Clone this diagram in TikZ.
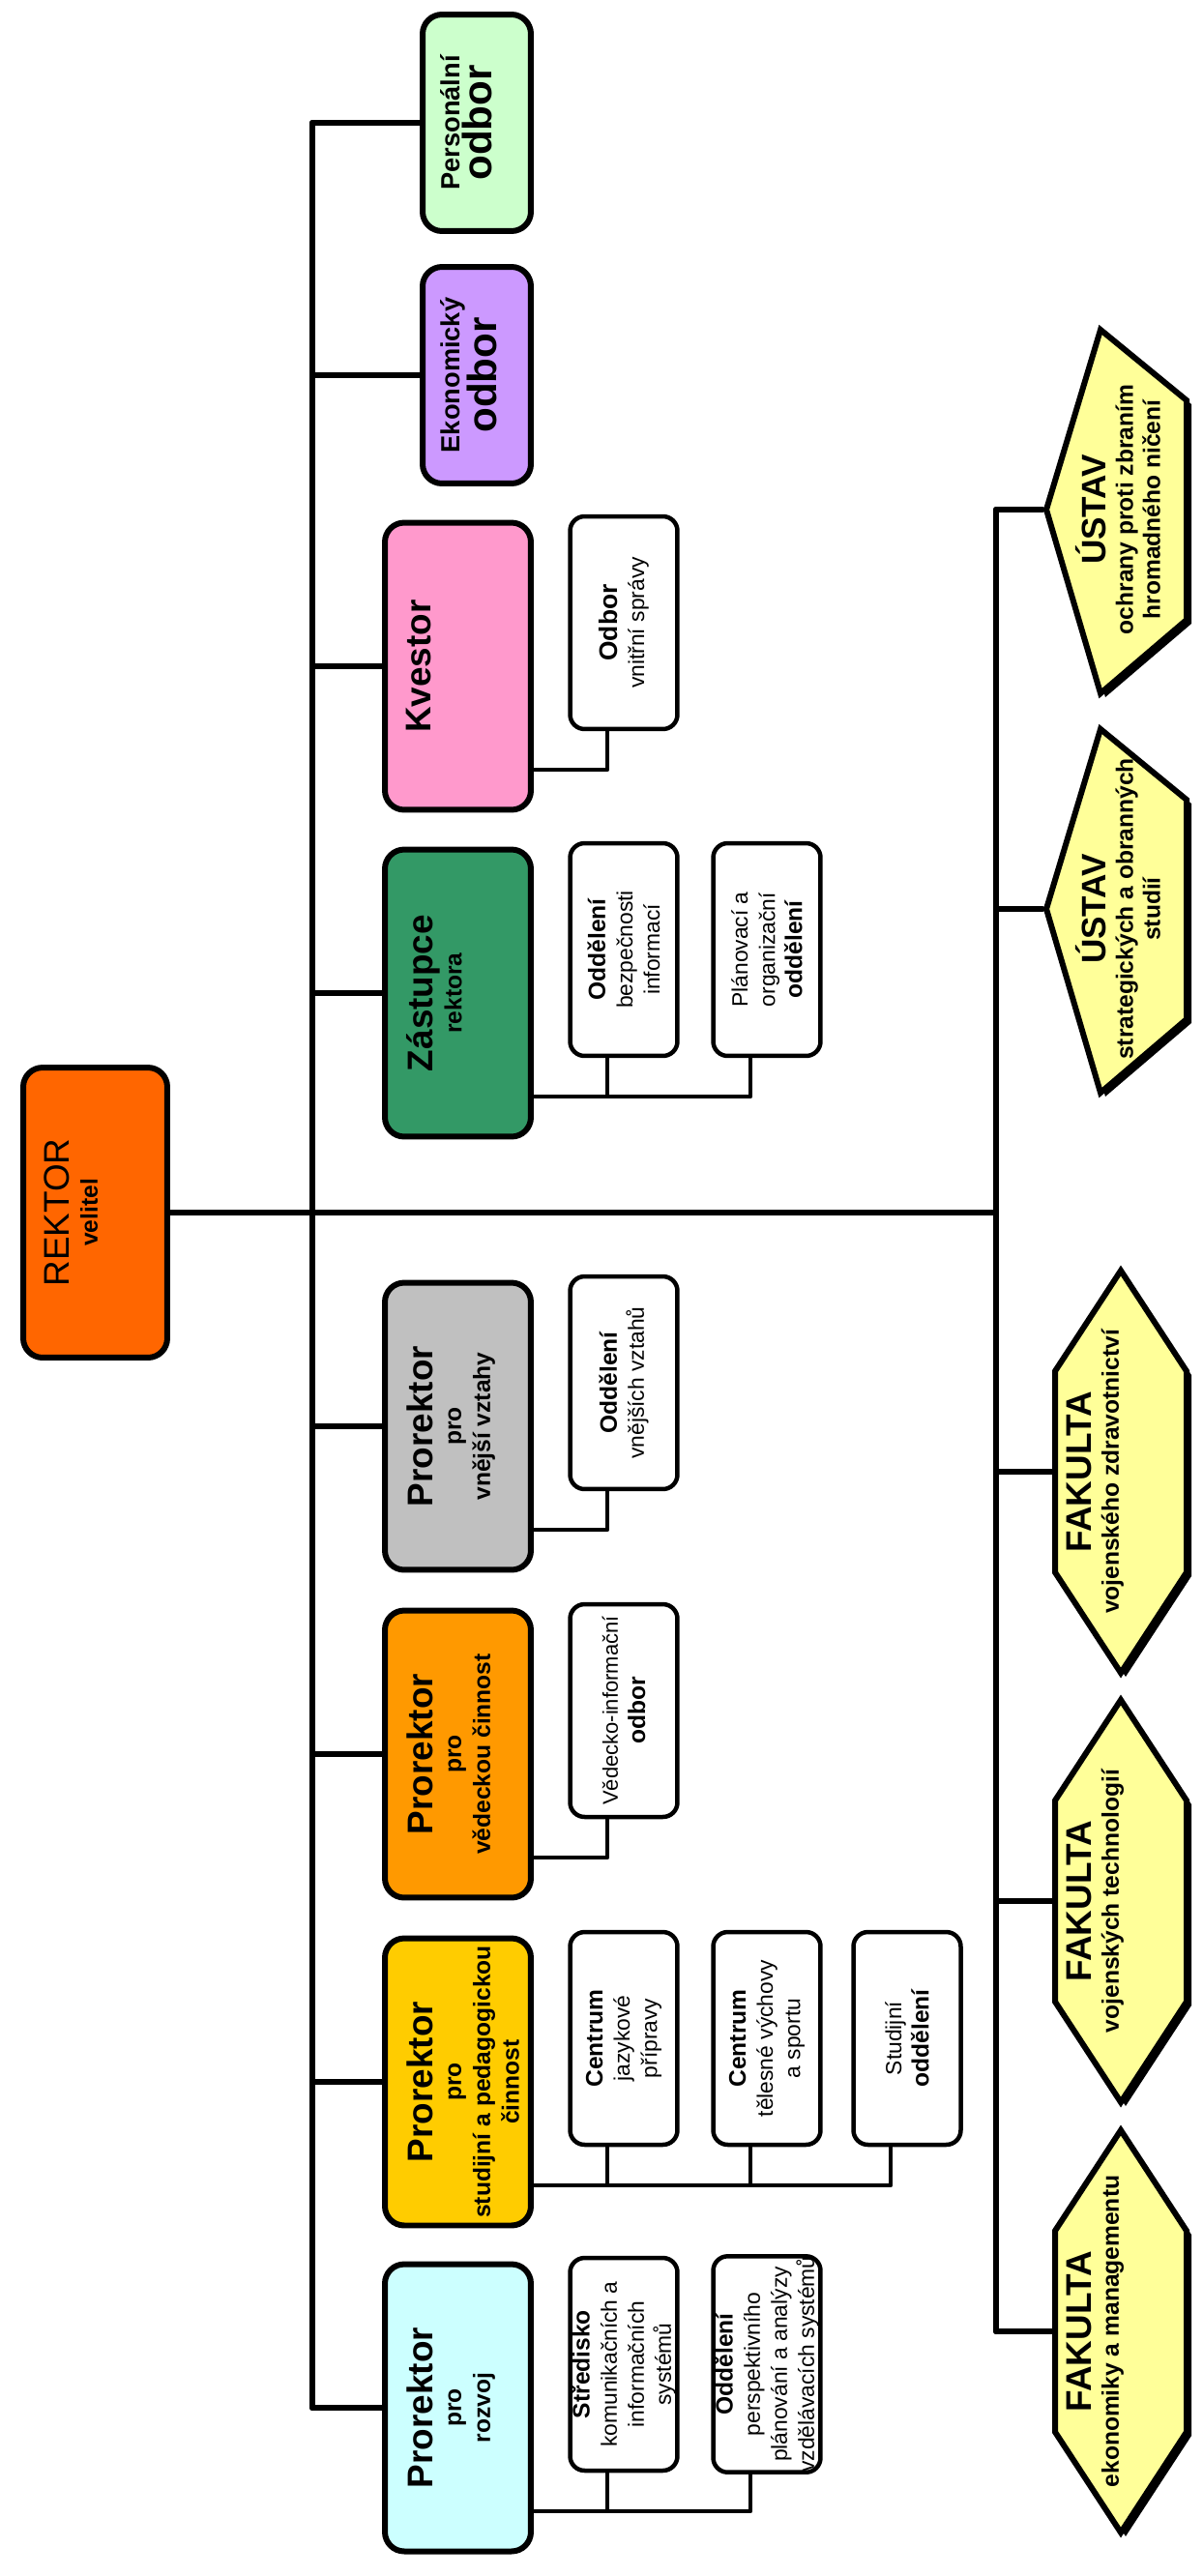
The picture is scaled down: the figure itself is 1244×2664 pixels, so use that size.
\documentclass[tikz,border=0pt]{standalone}
\usepackage{fontspec}
\setmainfont{Liberation Sans}
\usetikzlibrary{calc}
\definecolor{rektororange}{HTML}{FF6600}
\definecolor{persgreen}{HTML}{CCFFCC}
\definecolor{ekoviolet}{HTML}{CC99FF}
\definecolor{kvestorpink}{HTML}{FF99CC}
\definecolor{zastgreen}{HTML}{339966}
\definecolor{vnejgray}{HTML}{C0C0C0}
\definecolor{vedorange}{HTML}{FF9900}
\definecolor{studgold}{HTML}{FFCC00}
\definecolor{rozvojcyan}{HTML}{CCFFFF}
\definecolor{fakyellow}{HTML}{FFFF99}
\newcommand{\velky}[1]{{\fontsize{21}{24}\selectfont #1}}
\newcommand{\tucne}[1]{{\fontsize{14}{16}\selectfont\bfseries #1}}

\begin{document}
\begin{tikzpicture}[x=0.02cm, y=-0.02cm, line join=round, line cap=round,
	headbox/.style={draw, line width=0.12cm, rounded corners=0.4cm, rotate=90, minimum width=5.94cm, minimum height=3.02cm, inner sep=0pt},
	smallbox/.style={headbox, minimum width=4.48cm, minimum height=2.24cm},
	headtext/.style={rotate=90, anchor=north, align=center, inner sep=0pt, font=\fontsize{14}{17}\selectfont\bfseries},
	subbox/.style={draw, fill=white, line width=0.09cm, rounded corners=0.3cm, rotate=90, minimum width=4.4cm, minimum height=2.22cm, inner sep=0pt, align=center, font=\fontsize{13}{16}\selectfont},
	linemain/.style={line width=0.12cm},
	linesub/.style={line width=0.09cm},
	facshape/.style={draw, fill=fakyellow, line width=0.12cm, line join=miter},
	factext/.style={rotate=90, anchor=north, align=center, inner sep=0pt, font=\fontsize{14}{16}\selectfont\bfseries}]
	\useasboundingbox (0,0) rectangle (1244,2664);
	% Rektor
	\node[headbox, minimum width=6cm, minimum height=2.98cm, fill=rektororange] (rektor) at (98.5,1254) {};
	\node[headtext] (rektor-t) at ([xshift=0.48cm]rektor.north) {\velky{\mdseries REKTOR}\\velitel};
	% Odbory a prorektori
	\node[smallbox, fill=persgreen] (pers) at (493,127) {};
	\node[headtext, font=\fontsize{15.5}{19}\selectfont\bfseries] (pers-t) at ([xshift=0.42cm]pers.north) {Personální\\{\fontsize{24}{26}\selectfont odbor}};
	\node[smallbox, fill=ekoviolet] (eko) at (493,388) {};
	\node[headtext, font=\fontsize{15.5}{19}\selectfont\bfseries] (eko-t) at ([xshift=0.42cm]eko.north) {Ekonomický\\{\fontsize{24}{26}\selectfont odbor}};
	\node[headbox, fill=kvestorpink] (kvestor) at (473.5,689) {};
	\node[headtext] (kvestor-t) at ([xshift=0.5cm]kvestor.north) {\velky{Kvestor}};
	\node[headbox, fill=zastgreen] (zast) at (473.5,1027) {};
	\node[headtext] (zast-t) at ([xshift=0.5cm]zast.north) {\velky{Zástupce}\\rektora};
	\node[headbox, fill=vnejgray] (vnej) at (473.5,1475) {};
	\node[headtext] (vnej-t) at ([xshift=0.5cm]vnej.north) {\velky{Prorektor}\\pro\\vnější vztahy};
	\node[headbox, fill=vedorange] (ved) at (473.5,1814) {};
	\node[headtext] (ved-t) at ([xshift=0.5cm]ved.north) {\velky{Prorektor}\\pro\\vědeckou činnost};
	\node[headbox, fill=studgold] (stud) at (473.5,2153) {};
	\node[headtext] (stud-t) at ([xshift=0.5cm]stud.north) {\velky{Prorektor}\\pro\\studijní a pedagogickou\\činnost};
	\node[headbox, fill=rozvojcyan] (rozvoj) at (473.5,2490) {};
	\node[headtext] (rozvoj-t) at ([xshift=0.5cm]rozvoj.north) {\velky{Prorektor}\\pro\\rozvoj};
	% Podrizena pracoviste
	\node[subbox] (odbor) at (645,644) {{\fontsize{15}{18}\selectfont\bfseries Odbor}\\vnitřní správy};
	\node[subbox] (obi) at (645,982) {\tucne{Oddělení}\\bezpečnosti\\informací};
	\node[subbox] (poo) at (793,982) {Plánovací a\\organizační\\\tucne{oddělení}};
	\node[subbox] (ovv) at (645,1430) {\tucne{Oddělení}\\vnějších vztahů};
	\node[subbox, font=\fontsize{12.5}{16}\selectfont] (vio) at (645,1769) {Vědecko-informační\\\tucne{odbor}};
	\node[subbox] (cjp) at (645,2108) {\tucne{Centrum}\\jazykové\\přípravy};
	\node[subbox] (ctv) at (793,2108) {\tucne{Centrum}\\tělesné výchovy\\a sportu};
	\node[subbox] (sto) at (938,2108) {Studijní\\\tucne{oddělení}};
	\node[subbox] (skis) at (645,2445) {\tucne{Středisko}\\komunikačních a\\informačních\\systémů};
	\node[subbox] (oppa) at (793,2445) {\tucne{Oddělení}\\perspektivního\\plánování a analýzy\\vzdělávacích systémů};
	% Hlavni vetve
	\coordinate (t0) at (323,127);
	\coordinate (t1) at (323,2490);
	\coordinate (r0) at (1030,527);
	\coordinate (r1) at (1030,2411);
	\draw[linemain] (t0) -- (t1);
	\draw[linemain] (r0) -- (r1);
	\draw[linemain] (rektor.south) -- (rektor.south -| r0);
	\foreach \n in {pers, eko, kvestor, zast, vnej, ved, stud, rozvoj} {
		\draw[linemain] (\n.north -| t0) -- (\n.north);
	}
	\foreach \h/\s in {kvestor/odbor, zast/obi, zast/poo, vnej/ovv, ved/vio, stud/cjp, stud/ctv, stud/sto, rozvoj/skis, rozvoj/oppa} {
		\draw[linesub] ([yshift=-2.14cm]\h.south) -| ([xshift=-0.34cm]\s.west);
	}
	% Ustavy
	\foreach \ty/\nm/\txt in {527/us1/{ochrany proti zbraním\\hromadného ničení}, 940/us2/{strategických a obranných\\studií}} {
		\fill[xshift=0.1cm, yshift=-0.08cm] (1082,\ty) -- (1138,\ty-186) -- (1227,\ty-113) -- (1227,\ty+114) -- (1138,\ty+190) -- cycle;
		\draw[facshape] (1082,\ty) -- (1138,\ty-186) -- (1227,\ty-113) -- (1227,\ty+114) -- (1138,\ty+190) -- cycle;
		\coordinate (\nm) at (1078,\ty);
		\node[factext] (\nm-t) at (1112,\ty) {{\fontsize{20}{24}\selectfont ÚSTAV}\\\txt};
		\draw[linemain] (\nm -| r0) -- (\nm);
	}
	% Fakulty
	\foreach \cy/\nm/\txt in {1522/fak1/{vojenského zdravotnictví}, 1966/fak2/{vojenských technologií}, 2411/fak3/{ekonomiky a managementu}} {
		\fill[xshift=0.1cm, yshift=-0.08cm] (1159,\cy-208) -- (1227,\cy-104) -- (1227,\cy+104) -- (1159,\cy+208) -- (1091,\cy+104) -- (1091,\cy-104) -- cycle;
		\draw[facshape] (1159,\cy-208) -- (1227,\cy-104) -- (1227,\cy+104) -- (1159,\cy+208) -- (1091,\cy+104) -- (1091,\cy-104) -- cycle;
		\coordinate (\nm) at (1088,\cy);
		\node[factext] (\nm-t) at (1103,\cy) {\velky{FAKULTA}\\\txt};
		\draw[linemain] (\nm -| r0) -- (\nm);
	}
\end{tikzpicture}
\end{document}
